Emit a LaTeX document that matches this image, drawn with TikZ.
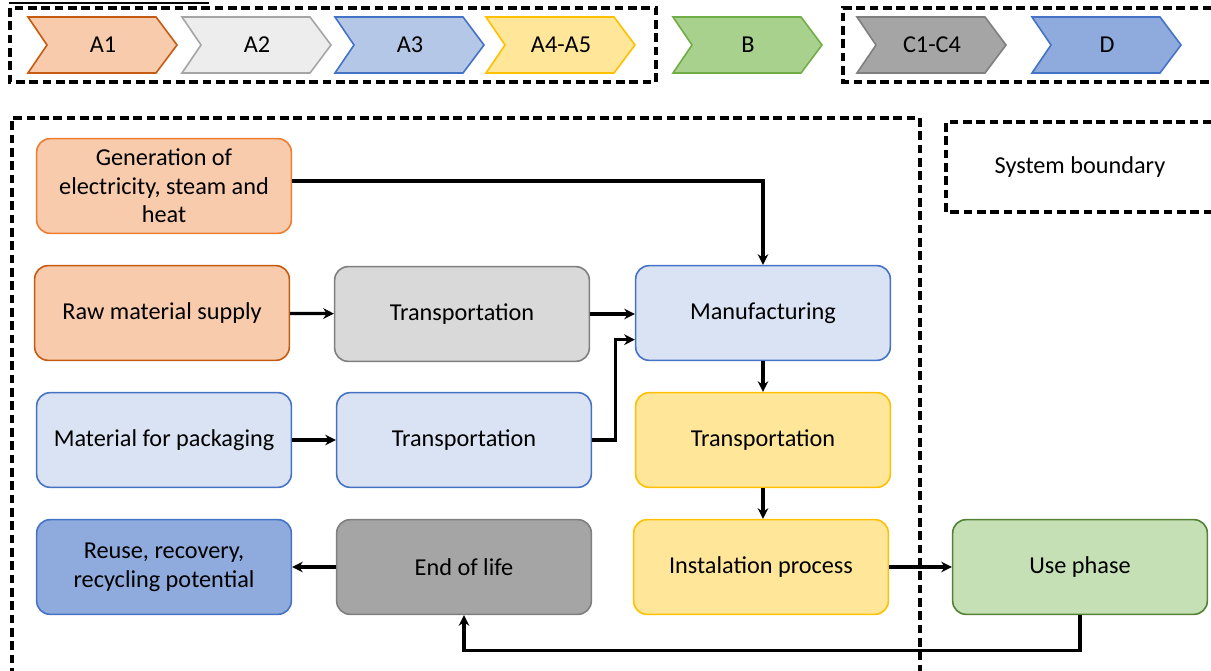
\documentclass[tikz,border=0pt]{standalone}
\usepackage{fontspec}
\setmainfont{Carlito}
\usetikzlibrary{arrows.meta}

\definecolor{orfill}{HTML}{F8CBAD}
\definecolor{ordraw}{HTML}{ED7D31}
\definecolor{ordark}{HTML}{C55A11}
\definecolor{grfill}{HTML}{D9D9D9}
\definecolor{grlight}{HTML}{EDEDED}
\definecolor{grdraw}{HTML}{A5A5A5}
\definecolor{grdark}{HTML}{7F7F7F}
\definecolor{blfill}{HTML}{DAE3F3}
\definecolor{blmid}{HTML}{B4C7E7}
\definecolor{bldark}{HTML}{8FAADC}
\definecolor{bldraw}{HTML}{4472C4}
\definecolor{yefill}{HTML}{FFE699}
\definecolor{yedraw}{HTML}{FFC000}
\definecolor{gnfill}{HTML}{C5E0B4}
\definecolor{gnmid}{HTML}{A9D18E}
\definecolor{gndraw}{HTML}{70AD47}
\definecolor{gndark}{HTML}{548235}

\tikzset{
  stage/.style={draw, line width=1.2pt, rounded corners=10pt, align=center,
    minimum width=191pt, minimum height=71pt, inner sep=2pt,
    font=\fontsize{18.2}{21.5}\selectfont},
  flow/.style={line width=2.4pt, -{Stealth[length=8pt,width=8pt]}},
  boundary/.style={line width=2.6pt, dash pattern=on 6.5pt off 3.5pt},
  phase/.style={line width=1.2pt},
}

\begin{document}
\begin{tikzpicture}[x=0.75pt, y=-0.75pt]
    \useasboundingbox (0,0) rectangle (1211,671);

    % cut-off heading rule
    \draw[line width=2pt] (9,3) -- (209,3);

    % module chevrons
    \foreach \xl/\lab/\fc/\dc in {28/A1/orfill/ordark, 182/A2/grlight/grdraw,
        335/A3/blmid/bldraw, 486/A4-A5/yefill/yedraw, 673/B/gnmid/gndraw,
        857/C1-C4/grdraw/grdark, 1032/D/bldark/bldraw}
      \draw[phase, fill=\fc, draw=\dc] (\xl,17) -- ++(128,0) -- ++(21,28)
        -- ++(-21,28) -- ++(-128,0) -- ++(19,-28) -- cycle
        (\xl+75,45) node[font=\fontsize{18.2}{21.5}\selectfont] {\lab};

    % boundaries
    \draw[boundary] (10,8) rectangle (656,82);
    \draw[boundary] (1225,8) -- (843,8) -- (843,82) -- (1225,82);
    \draw[boundary] (12,690) -- (12,118) -- (920,118) -- (920,690);
    \draw[boundary] (1225,122) -- (946,122) -- (946,212) -- (1225,212);
    \node[font=\fontsize{18.2}{21.5}\selectfont] (legend) at (1080,167) {System boundary};

    % processes
    \node[stage, fill=orfill, draw=ordraw] (energy) at (164,186) {Generation of\\electricity, steam and\\heat};
    \node[stage, fill=orfill, draw=ordark] (raw) at (162,313) {Raw material supply};
    \node[stage, fill=grfill, draw=grdark] (transA) at (462,314) {Transportation};
    \node[stage, fill=blfill, draw=bldraw] (packing) at (164,440) {Material for packaging};
    \node[stage, fill=blfill, draw=bldraw] (transB) at (464,440) {Transportation};
    \node[stage, fill=blfill, draw=bldraw] (manuf) at (763,313) {Manufacturing};
    \node[stage, fill=yefill, draw=yedraw] (transC) at (763,440) {Transportation};
    \node[stage, fill=yefill, draw=yedraw] (install) at (761,567) {Instalation process};
    \node[stage, fill=gnfill, draw=gndark] (use) at (1080,567) {Use phase};
    \node[stage, fill=grdraw, draw=grdark] (eol) at (464,567) {End of life};
    \node[stage, fill=bldark, draw=bldraw] (reuse) at (164,567) {Reuse, recovery,\\recycling potential};

    % connectors
    \draw[flow] ([yshift=3.75pt]energy.east) -| (manuf.north);
    \draw[flow] (raw) -- (transA);
    \draw[flow] (transA.east) -- (manuf.west |- transA.east);
    \draw[flow] (packing) -- (transB);
    \draw[flow] (transB.east) -- ++(23,0) |- ([yshift=-20pt]manuf.west);
    \draw[flow] (manuf) -- (transC);
    \draw[flow] (transC.south) -- (transC.south |- install.north);
    \draw[flow] (install) -- (use);
    \draw[flow] (use.south) -- ++(0,35) -| (eol.south);
    \draw[flow] (eol) -- (reuse);
\end{tikzpicture}
\end{document}
